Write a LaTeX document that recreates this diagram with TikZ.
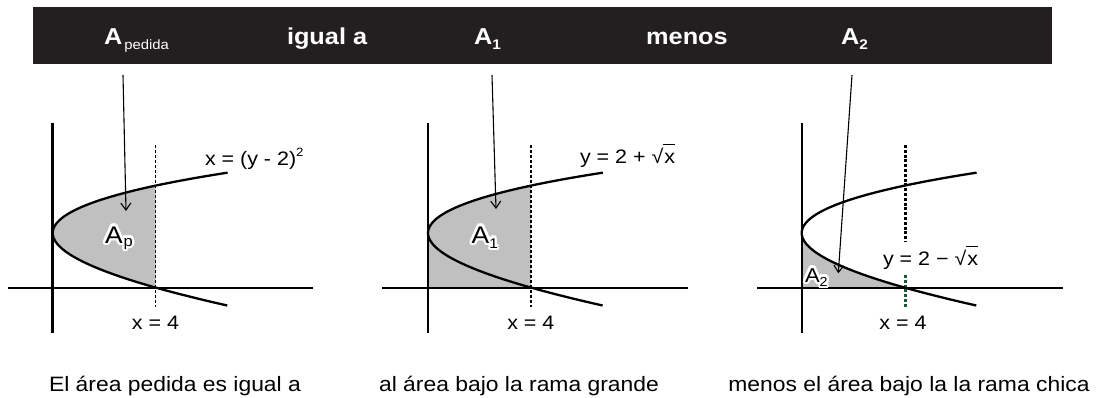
\documentclass[tikz,border=0pt]{standalone}
\usepackage{fontspec}
\setmainfont{Liberation Sans}[FakeStretch=1.1]
\usetikzlibrary{arrows.meta}
\definecolor{bandcol}{RGB}{35,31,32}
\definecolor{shadecol}{RGB}{192,192,192}
\definecolor{dgreen}{RGB}{20,90,55}
\newcommand\fs[1]{\fontsize{#1}{#1}\selectfont}
\newcommand\sqx{√\rlap{\rule[0.93em]{0.62em}{0.06em}}\kern0.06em x}
\newcommand\halolabel[3]{%
  \foreach \hr in {1.2,2.4}{\foreach \ha in {0,30,...,330}{%
    \node[txt,white,shift={(\ha:\hr pt)}] at (#2) {#3};}}%
  \node[txt] (#1) at (#2) {#3};}
\begin{document}
\begin{tikzpicture}[x=1pt,y=-1pt,
  txt/.style={inner sep=0pt,outer sep=0pt,anchor=base west},
  ctxt/.style={inner sep=0pt,outer sep=0pt,anchor=base},
  bandtxt/.style={txt,text=white,font=\fs{23}\bfseries},
  vaxis/.style={line width=2.6pt},
  haxis/.style={line width=2pt},
  curve/.style={line width=2.3pt},
  dashone/.style={line width=1.4pt,dash pattern=on 3pt off 2pt},
  dashthree/.style={line width=2.6pt,dash pattern=on 3pt off 1.8pt},
  arr/.style={line width=1.1pt,-{Straight Barb[length=7pt,width=10pt]}},
  lab/.style={txt,font=\fs{19.5}},
  captxt/.style={ctxt,font=\fs{20.8}}]
\useasboundingbox (0,0) rectangle (1096,397);
% top band
\fill[bandcol] (33,7) rectangle (1052,64);
\node[bandtxt] (tAp) at (104,44) {A\kern2pt\raisebox{-5pt}{\fs{13.5}\mdseries pedida}};
\node[bandtxt] (tig) at (287,44) {igual a};
\node[bandtxt] (tA1) at (474,44) {A\raisebox{-5pt}{\fs{14}1}};
\node[bandtxt,anchor=base] (tme) at (687,44) {menos};
\node[bandtxt] (tA2) at (841,44) {A\raisebox{-5pt}{\fs{14}2}};
% ---------- panel 1 ----------
\fill[shadecol] plot[domain=-1:1,samples=50,variable=\t] ({52.7+103*\t*\t},{233+51*\t+3.6*\t*\t}) -- cycle;
\draw[dashone] (155.7,145) -- (155.7,307);
\draw[curve] plot[domain=-1.303:1.303,samples=80,variable=\t] ({52.7+103*\t*\t},{233+51*\t+3.6*\t*\t});
\draw[vaxis] (52.7,122.7) -- (52.7,333);
\draw[haxis] (8,287.7) -- (313,287.7);
\halolabel{Ap}{105,243}{\fs{24}A\kern1pt\raisebox{-3pt}{\fs{15}p}}
\node[lab] (eq1) at (205,165) {x = (y - 2)\raisebox{9pt}{\fs{12}2}};
\node[lab,anchor=base] (x41) at (155.5,329) {x = 4};
\node[captxt] (c1) at (175,391) {El área pedida es igual a};
\coordinate (s1) at (123,75);
\coordinate (e1) at (126,211);
\draw[arr] (s1) -- (e1);
% ---------- panel 2 ----------
\begin{scope}[xshift=375.3pt]
\fill[shadecol] (52.7,287.7) -- plot[domain=0:1,samples=40,variable=\t] ({52.7+103*\t*\t},{233-51*\t+3.6*\t*\t}) -- (155.7,287.7) -- cycle;
\draw[dashone] (155.7,145) -- (155.7,307);
\draw[curve] plot[domain=-1.303:1.303,samples=80,variable=\t] ({52.7+103*\t*\t},{233+51*\t+3.6*\t*\t});
\draw[vaxis] (52.7,122.7) -- (52.7,333);
\draw[haxis] (6.7,287.7) -- (312.7,287.7);
\halolabel{A1}{96.4,243}{\fs{24}A\raisebox{-5pt}{\fs{14}1}}
\node[lab] (eq2) at (204.7,163.3) {y = 2 + \sqx};
\node[lab,anchor=base] (x42) at (155.5,329) {x = 4};
\node[captxt] (c2) at (143.7,391) {al área bajo la rama grande};
\coordinate (s2) at (116.7,75);
\coordinate (e2) at (120.7,209);
\draw[arr] (s2) -- (e2);
\end{scope}
% ---------- panel 3 ----------
\begin{scope}[xshift=749pt]
\fill[shadecol] (52.7,287.7) -- plot[domain=0:1,samples=40,variable=\t] ({52.7+103*\t*\t},{233+51*\t+3.6*\t*\t}) -- cycle;
\draw[dashthree] (156.7,145) -- (156.7,241.7);
\draw[dashthree,dgreen] (156.7,275) -- (156.7,308.3);
\draw[curve] plot[domain=-1.303:1.303,samples=80,variable=\t] ({52.7+103*\t*\t},{233+51*\t+3.6*\t*\t});
\draw[line width=1.9pt] (52.7,122.7) -- (52.7,333);
\draw[haxis] (8,287.7) -- (313.7,287.7);
\halolabel{A2}{56,282}{\fs{20}A\raisebox{-4pt}{\fs{13}2}}
\node[lab] (eq3) at (134,265) {y = 2 − \sqx};
\node[lab,anchor=base] (x43) at (154,329) {x = 4};
\node[captxt] (c3) at (160,391) {menos el área bajo la la rama chica};
\coordinate (s3) at (103,75);
\coordinate (e3) at (89.3,273.3);
\draw[arr] (s3) -- (e3);
\end{scope}
\end{tikzpicture}
\end{document}
